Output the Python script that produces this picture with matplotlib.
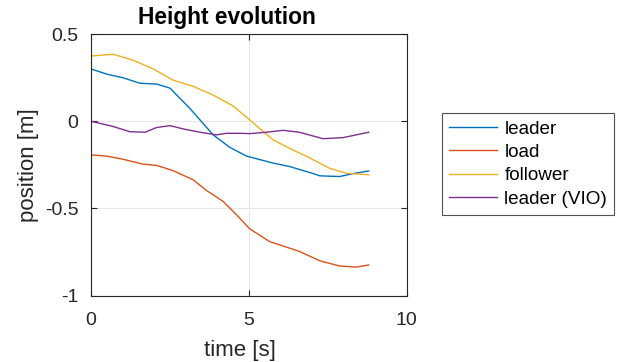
import matplotlib
matplotlib.use("Agg")
import matplotlib.pyplot as plt

plt.rcParams['font.family'] = ['Liberation Sans', 'DejaVu Sans']
plt.rcParams['axes.unicode_minus'] = False

# values
t_leader = [0, 0.5, 1.0, 1.55, 2.08, 2.5, 3.13, 3.87, 4.4, 4.93, 5.77, 6.3, 7.04, 7.25, 7.88, 8.3, 8.8]
leader = [0.30, 0.27, 0.25, 0.218, 0.213, 0.19, 0.074, -0.078, -0.15, -0.2, -0.24, -0.26, -0.30, -0.313, -0.317, -0.30, -0.285]

t_load = [0, 0.5, 1.02, 1.65, 2.08, 2.6, 3.24, 3.66, 4.19, 4.61, 5.03, 5.66, 6.6, 7.25, 7.88, 8.4, 8.8]
load = [-0.193, -0.2, -0.218, -0.246, -0.253, -0.283, -0.336, -0.397, -0.46, -0.536, -0.617, -0.69, -0.746, -0.80, -0.83, -0.836, -0.824]

t_follower = [0, 0.7, 1.34, 1.97, 2.6, 3.24, 3.87, 4.5, 5.03, 5.77, 6.4, 6.82, 7.35, 7.56, 8.09, 8.8]
follower = [0.374, 0.384, 0.35, 0.30, 0.236, 0.2, 0.15, 0.088, 0.007, -0.107, -0.165, -0.2, -0.25, -0.27, -0.298, -0.307]

t_vio = [0, 0.7, 1.23, 1.71, 2.08, 2.5, 2.92, 3.45, 3.98, 4.29, 4.71, 5.03, 5.56, 6.09, 6.6, 7.35, 7.98, 8.8]
vio = [0.0, -0.03, -0.06, -0.063, -0.036, -0.025, -0.044, -0.063, -0.078, -0.069, -0.069, -0.071, -0.063, -0.052, -0.063, -0.10, -0.094, -0.063]

labels = ['leader', 'load', 'follower', 'leader (VIO)']
colors = ['#0072BD', '#D95319', '#EDB120', '#7E2F8E']

fig = plt.figure(figsize=(6.27, 3.62), dpi=100)
ax = fig.add_axes([0.1451, 0.1832, 0.5035, 0.7228])

series = [(t_leader, leader), (t_load, load), (t_follower, follower), (t_vio, vio)]
for (t, y), c, lab in zip(series, colors, labels):
    ax.plot(t, y, color=c, lw=1.0, label=lab)

ax.set_xlim(0, 10)
ax.set_ylim(-1, 0.5)
ax.set_xticks([0, 5, 10])
ax.set_yticks([-1, -0.5, 0, 0.5])
ax.set_yticklabels(['-1', '-0.5', '0', '0.5'])
ax.grid(True, color='#e6e6e6', lw=0.8)
ax.set_axisbelow(True)
ax.tick_params(direction='in', top=True, right=True, labelsize=14, colors='#262626', length=4, pad=9)
ax.tick_params(axis='x', pad=12)
for s in ax.spines.values():
    s.set_color('#262626')
    s.set_linewidth(0.8)

ax.set_xlabel('time [s]', fontsize=16, color='#262626', labelpad=4)
ax.xaxis.set_label_coords(0.472, -0.17)
ax.set_ylabel('position [m]', fontsize=16, color='#262626', labelpad=4)
title = ax.set_title('Height evolution', fontsize=16.4, fontweight='bold', pad=7)
title.set_x(0.431)

leg = ax.legend(loc='upper left', bbox_to_anchor=(442.3 / 627, 1 - 113.3 / 362),
                bbox_transform=fig.transFigure, borderaxespad=0, fancybox=False,
                edgecolor='#262626', fontsize=13.6, handlelength=2.5,
                labelspacing=0.32, handletextpad=0.4, borderpad=0.38)
leg.get_frame().set_linewidth(0.8)

fig.savefig('out.png', dpi=100)
